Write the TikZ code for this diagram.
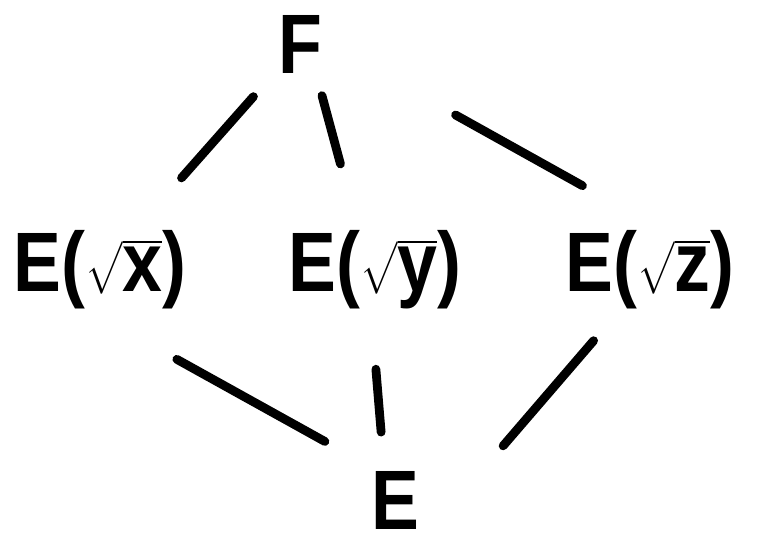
\documentclass[tikz,border=0pt]{standalone}
\usepackage{amsmath}
\usepackage{fontspec}
\setmainfont{Liberation Sans}
\usepackage{tikz}
\usetikzlibrary{positioning}

\tikzset{
  field/.style={font=\fontsize{48}{52}\selectfont\bfseries, inner sep=4pt, xscale=0.85},
  edge/.style={line width=5pt, line cap=round}
}
\newcommand{\adj}[1]{E($\sqrt{\vphantom{E}\smash[b]{\text{\bfseries #1}}}$)}

\begin{document}
\begin{tikzpicture}[x=0.02cm,y=-0.02cm]
\useasboundingbox (0,0) rectangle (759,552);

% top and bottom fields
\node[field] (F) at (300,44) {F};
\node[field] (E) at (395,500) {E};

% the three intermediate fields
\node[field] (Ex) at (100,270) {\adj{x}};
\node[field] (Ey) at (375,270) {\adj{y}};
\node[field] (Ez) at (650,270) {\adj{z}};

% inclusions F over the middle row
\draw[edge,shorten <=40pt,shorten >=70pt] (F.center) -- (Ex.center);
\draw[edge,shorten <=9pt,shorten >=35pt] (F.-60) -- (Ey.115);
\draw[edge,shorten <=83pt,shorten >=44pt] (F.east) -- (Ez.north);

% inclusions middle row over E
\draw[edge,shorten <=50pt,shorten >=26pt] (Ex.south) -- (E.north west);
\draw[edge,shorten <=30pt,shorten >=18pt] (Ey.-95) -- (E.110);
\draw[edge,shorten <=18pt,shorten >=68pt] (Ez.-132) -- (E.south east);
\end{tikzpicture}
\end{document}
